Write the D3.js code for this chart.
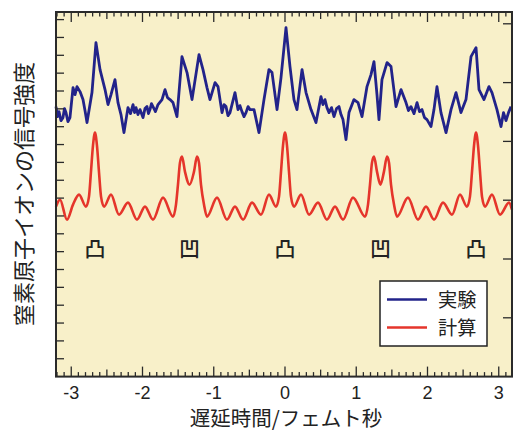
<!DOCTYPE html>
<html><head><meta charset="utf-8">
<script src="https://cdn.jsdelivr.net/npm/d3@7/dist/d3.min.js"></script>
<style>
html,body{margin:0;padding:0;background:#fff;}
svg{display:block;}
text{font-family:"Liberation Sans",Arial,sans-serif;}
.jp{font-family:"Noto Sans CJK JP","Noto Sans CJK SC",sans-serif;}
</style>
</head><body>
<svg id="c" width="514" height="432"></svg>
<script>
// ---------- DATA ----------
// delay time (fs)
const redT = [-3.214,-3.158,-3.060,-2.975,-2.891,-2.793,-2.751,-2.723,-2.695,-2.667,-2.639,-2.611,-2.582,-2.540,-2.442,-2.330,-2.204,-2.077,-1.965,-1.853,-1.712,-1.572,-1.530,-1.502,-1.474,-1.446,-1.404,-1.340,-1.277,-1.235,-1.207,-1.179,-1.137,-1.095,-0.954,-0.814,-0.702,-0.589,-0.463,-0.337,-0.225,-0.126,-0.084,-0.056,-0.028,0,0.028,0.056,0.084,0.126,0.225,0.337,0.463,0.589,0.702,0.814,0.954,1.123,1.165,1.193,1.221,1.249,1.291,1.340,1.389,1.432,1.460,1.488,1.530,1.572,1.726,1.867,1.979,2.091,2.218,2.344,2.456,2.554,2.596,2.625,2.653,2.681,2.709,2.737,2.765,2.807,2.905,3.018,3.144,3.186];
// calculated signal (arb. units)
const redV = [17.0,17.7,15.7,17.2,18.2,17.0,18.0,20.5,23.1,24.4,23.1,20.5,18.0,17.0,18.2,16.2,17.4,15.7,17.0,15.7,17.9,16.0,17.2,19.2,21.4,22.0,20.5,19.2,20.5,22.0,21.4,19.2,17.2,16.0,17.9,15.7,17.0,15.7,17.4,16.2,18.2,17.0,18.0,20.5,23.1,24.4,23.1,20.5,18.0,17.0,18.2,16.2,17.4,15.7,17.0,15.7,17.9,16.0,17.2,19.2,21.4,22.0,20.5,19.2,20.5,22.0,21.4,19.2,17.2,16.0,17.9,15.7,17.0,15.7,17.4,16.2,18.2,17.0,18.0,20.5,23.1,24.4,23.1,20.5,18.0,17.0,18.2,16.2,17.4,16.7];
const blueT = [-3.214,-3.193,-3.172,-3.144,-3.116,-3.095,-3.074,-3.046,-3.018,-2.975,-2.947,-2.919,-2.877,-2.835,-2.807,-2.779,-2.709,-2.653,-2.596,-2.526,-2.484,-2.442,-2.386,-2.344,-2.302,-2.260,-2.204,-2.168,-2.133,-2.112,-2.091,-2.063,-2.035,-1.993,-1.965,-1.937,-1.916,-1.895,-1.874,-1.853,-1.818,-1.782,-1.726,-1.684,-1.649,-1.614,-1.572,-1.516,-1.446,-1.375,-1.305,-1.207,-1.151,-1.095,-1.053,-0.982,-0.940,-0.884,-0.856,-0.828,-0.800,-0.772,-0.702,-0.660,-0.632,-0.604,-0.575,-0.547,-0.519,-0.491,-0.435,-0.365,-0.295,-0.225,-0.182,-0.112,-0.056,0.014,0.070,0.126,0.168,0.239,0.295,0.365,0.435,0.505,0.533,0.561,0.589,0.618,0.653,0.688,0.723,0.758,0.786,0.814,0.856,0.898,0.968,1.025,1.081,1.151,1.207,1.249,1.291,1.319,1.361,1.432,1.488,1.558,1.628,1.698,1.733,1.768,1.811,1.853,1.888,1.923,1.958,1.993,2.049,2.091,2.133,2.189,2.260,2.330,2.400,2.470,2.540,2.611,2.681,2.723,2.793,2.863,2.905,2.975,3.032,3.067,3.102,3.137,3.172];
// experimental signal (arb. units)
const blueV = [27.0,26.0,26.5,25.6,25.9,26.8,26.4,25.5,25.9,28.9,28.2,29.0,28.5,27.7,26.6,25.4,28.4,33.4,30.7,28.7,27.2,28.2,29.7,27.4,26.2,24.4,26.9,26.3,27.2,26.4,26.9,26.2,26.7,25.9,26.8,27.0,26.3,26.7,27.3,27.0,26.5,27.2,27.7,28.7,27.9,27.7,27.4,26.0,32.0,30.4,27.7,32.2,30.7,28.9,27.7,29.4,29.0,26.4,27.2,27.0,26.1,26.4,28.4,26.7,27.1,26.5,26.0,26.4,27.0,26.7,26.7,24.4,27.7,30.7,30.4,26.7,29.9,34.9,31.0,27.7,26.7,30.7,28.4,26.7,25.4,28.0,27.2,27.7,26.9,26.4,26.9,26.0,26.8,27.0,26.2,25.7,23.7,26.4,27.7,27.4,26.0,29.0,30.2,31.5,28.2,25.7,29.7,31.4,31.0,27.0,28.7,27.4,26.6,27.0,26.3,27.4,26.5,26.7,25.9,25.7,25.0,26.7,29.0,26.4,24.4,26.7,28.4,26.4,27.7,32.0,32.9,28.7,27.7,29.0,28.4,26.7,25.0,26.4,25.6,26.4,27.0];
const xTickLabels = [-3,-2,-1,0,1,2,3];
const markerT = [-2.667,-1.340,0,1.340,2.681];
const markerLabels = ["凸","凹","凸","凹","凸"];
const markerV = 12.96;
const seriesNames = ["実験","計算"];
const xTitle = "遅延時間/フェムト秒";
const yTitle = "窒素原子イオンの信号強度";
const leftTickStep = 1.785;
const rightTickStep = 5.88;

// ---------- LAYOUT ----------
const L=56, R=512, T=12, B=376.6;
const svg = d3.select("#c");
const x = d3.scaleLinear().domain([-3.214,3.186]).range([L,R]);
const y = d3.scaleLinear().domain([0,36.46]).range([B,T]);
const colBlue="#22238a", colRed="#e5352b", frame="#2a2a2a";

svg.append("rect").attr("x",L).attr("y",T).attr("width",R-L).attr("height",B-T).attr("fill","#f8f0c9");

// series
const red = redT.map((t,i)=>[t,redV[i]]);
const blue = blueT.map((t,i)=>[t,blueV[i]]);
svg.append("path").datum(red).attr("d",d3.line().x(d=>x(d[0])).y(d=>y(d[1])).curve(d3.curveMonotoneX)).attr("fill","none").attr("stroke",colRed).attr("stroke-width",2.6).attr("stroke-linejoin","round");
svg.append("path").datum(blue).attr("d",d3.line().x(d=>x(d[0])).y(d=>y(d[1]))).attr("fill","none").attr("stroke",colBlue).attr("stroke-width",2.8).attr("stroke-linejoin","round");

// markers
svg.selectAll(".mk").data(markerT).enter().append("text").attr("class","jp")
  .attr("x",d=>x(d)).attr("y",y(markerV)).attr("text-anchor","middle").attr("dominant-baseline","central")
  .attr("font-size",21).attr("font-weight",500).attr("fill","#222").text((d,i)=>markerLabels[i]);

// x minor ticks
const minor = d3.range(-32,32).map(k=>k/10).filter(v=>v>=-3.21&&v<=3.18);
function tickLen(v){const r=Math.round(v*10); if(r%10===0) return 10; if(r%5===0) return 7; return 4.5;}
const tk = svg.append("g").attr("stroke",frame).attr("stroke-width",1.3);
minor.forEach(v=>{
  const px=x(v), len=tickLen(v);
  tk.append("line").attr("x1",px).attr("x2",px).attr("y1",B).attr("y2",B-len);
  tk.append("line").attr("x1",px).attr("x2",px).attr("y1",T).attr("y2",T+len);
});
// left ticks
d3.range(1,21).map(k=>k*leftTickStep).forEach(v=>{
  tk.append("line").attr("x1",L).attr("x2",L+8).attr("y1",y(v)).attr("y2",y(v));
});
// right ticks
d3.range(1,7).map(k=>k*rightTickStep).forEach(v=>{
  tk.append("line").attr("x1",R).attr("x2",R-9).attr("y1",y(v)).attr("y2",y(v));
});
// x labels
svg.selectAll(".xl").data(xTickLabels).enter().append("text")
  .attr("x",d=>x(d)).attr("y",399).attr("text-anchor","middle").attr("font-size",18).attr("fill","#222")
  .text(d=>d);

// frame
svg.append("rect").attr("x",L).attr("y",T).attr("width",R-L).attr("height",B-T).attr("fill","none").attr("stroke",frame).attr("stroke-width",2);

// legend
const lg = svg.append("g");
lg.append("rect").attr("x",380).attr("y",281).attr("width",107).attr("height",65).attr("fill","#fff").attr("stroke","#222").attr("stroke-width",1.5);
[colBlue,colRed].forEach((c,i)=>{
  const yy = 299.5+i*28;
  lg.append("line").attr("x1",387).attr("x2",427).attr("y1",yy).attr("y2",yy).attr("stroke",c).attr("stroke-width",2.6);
  lg.append("text").attr("class","jp").attr("x",438).attr("y",yy+7).attr("font-size",19.2).attr("fill","#222").text(seriesNames[i]);
});

// titles
svg.append("text").attr("class","jp").attr("x",286).attr("y",426).attr("text-anchor","middle").attr("font-size",20.5).attr("fill","#222").text(xTitle);
svg.append("text").attr("class","jp").attr("transform","translate(22,194) rotate(-90)").attr("text-anchor","middle").attr("dominant-baseline","central").attr("font-size",22).attr("fill","#222").text(yTitle);
</script>
</body></html>
